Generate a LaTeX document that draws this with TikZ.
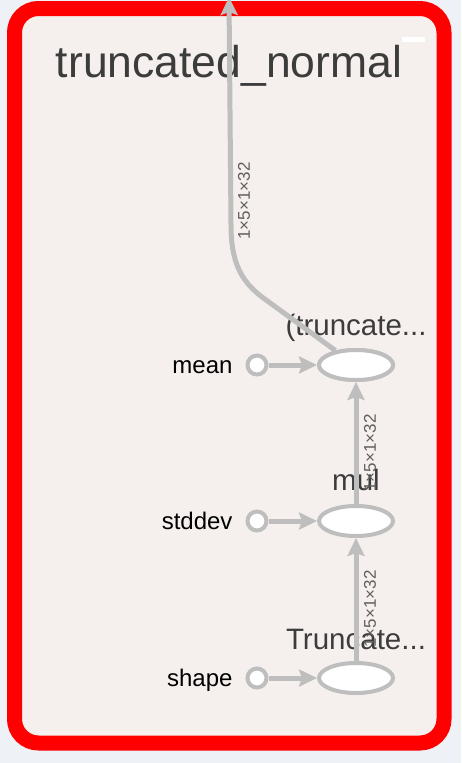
\documentclass[tikz,border=0pt]{standalone}
\usepackage{fontspec}
\setmainfont{Liberation Sans}
\usetikzlibrary{shapes.geometric,arrows.meta,positioning}

\definecolor{pagebg}{RGB}{238,241,245}
\definecolor{groupbg}{RGB}{245,240,238}
\definecolor{groupred}{RGB}{255,0,0}
\definecolor{edgegray}{RGB}{190,190,190}
\definecolor{titlegray}{RGB}{60,60,60}
\definecolor{labelgray}{RGB}{95,95,95}

\begin{document}
\begin{tikzpicture}[x=1pt, y=-1pt,
  edge/.style={line width=5pt, draw=edgegray, -{Stealth[length=18pt,width=17pt,inset=3pt]}},
  opnode/.style={draw=edgegray, line width=4pt, fill=white, ellipse, minimum width=74pt, minimum height=30pt, inner sep=0pt},
  constnode/.style={draw=edgegray, line width=4pt, fill=white, circle, minimum size=19pt, inner sep=0pt},
  oplabel/.style={anchor=base, text=titlegray, font=\fontsize{29.5}{32}\selectfont},
  constlabel/.style={anchor=base east, text=black, font=\fontsize{24}{28}\selectfont},
  elabel/.style={rotate=90, text=labelgray, font=\fontsize{17}{20}\selectfont, inner sep=0pt}]

  % Canvas
  \fill[pagebg] (0,0) rectangle (461,763);
  \useasboundingbox (0,0) rectangle (461,763);

  % Group box
  \draw[groupred, line width=15pt, fill=groupbg, rounded corners=24pt] (14.5,8.5) rectangle (444,743);
  \fill[white] (402,37) rectangle (425,42);
  \node[anchor=base, text=titlegray, font=\fontsize{44.5}{50}\selectfont] (title) at (229,77) {truncated\_normal};

  % Ops
  \node[opnode] (add) at (356,365) {};
  \node[opnode] (mul) at (356,521) {};
  \node[opnode] (trunc) at (356,678) {};
  \node[oplabel] (addlbl) at (356,335) {(truncate...};
  \node[oplabel] (mullbl) at (356,490) {mul};
  \node[oplabel] (trunclbl) at (356,649) {Truncate...};

  % Inputs
  \node[constnode] (mean) at (257,365) {};
  \node[constnode] (stddev) at (257,521) {};
  \node[constnode] (shape) at (257,678) {};
  \node[constlabel] (meanlbl) at (236,373) {mean};
  \node[constlabel] (stddevlbl) at (236,529) {stddev};
  \node[constlabel] (shapelbl) at (236,686) {shape};

  % Edges
  \coordinate (out) at (229,-3);
  \draw[edge] (mean) -- (add);
  \draw[edge] (stddev) -- (mul);
  \draw[edge] (shape) -- (trunc);
  \draw[edge] (trunc) -- (mul);
  \draw[edge] (mul) -- (add);
  \draw[edge] (add.145) -- (262,297) .. controls (241,281) and (231,262) .. (231,225) -- (out);
  \node[opnode] at (add) {};

  % Edge labels
  \node[elabel] (outlbl) at (244,201) {1×5×1×32};
  \node[elabel] (mullbl2) at (370,453) {1×5×1×32};
  \node[elabel] (trunclbl2) at (370,609) {1×5×1×32};
\end{tikzpicture}
\end{document}
